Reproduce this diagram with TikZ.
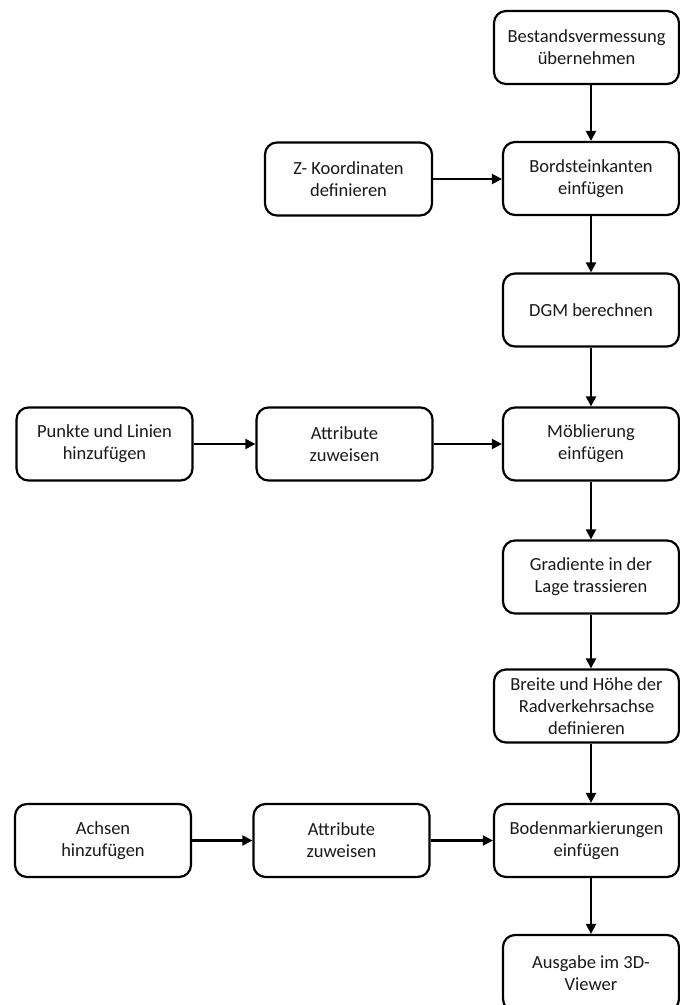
\documentclass[tikz,border=0pt]{standalone}
\usepackage{fontspec}
\setmainfont{Carlito}
\usetikzlibrary{arrows.meta}
\begin{document}
\begin{tikzpicture}[x=1pt,y=-1pt,
  stepbox/.style={draw, line width=2.2pt, rounded corners=12pt, fill=white,
    inner sep=0pt, minimum height=73pt, align=center,
    font=\fontsize{18.5}{22}\selectfont, text=black!90},
  wide/.style={stepbox, minimum width=185pt},
  std/.style={stepbox, minimum width=176pt},
  flow/.style={line width=2.2pt, -{Triangle[length=10pt,width=10pt]}}]
  \useasboundingbox (0,0) rectangle (680,1005);
  \clip (0,0) rectangle (680,1005);

  % main column
  \node[wide] (b1) at (586.5,47.5) {Bestandsvermessung\\übernehmen};
  \node[std] (b2) at (591,178.5) {Bordsteinkanten\\einfügen};
  \node[std] (dgm) at (591,310) {DGM berechnen};
  \node[std] (moeb) at (591,444) {Möblierung\\einfügen};
  \node[std] (grad) at (591,577) {Gradiente in der\\Lage trassieren};
  \node[wide] (breite) at (586.5,706) {Breite und Höhe der\\Radverkehrsachse\\definieren};
  \node[wide] (boden) at (586.5,840.5) {Bodenmarkierungen\\einfügen};
  \node[std, minimum height=76pt] (ausg) at (591,973) {Ausgabe im 3D-\\Viewer};

  % side branches
  \node[stepbox, minimum width=167pt] (zk) at (348.5,179) {Z- Koordinaten\\definieren};
  \node[std] (pl) at (104.5,444) {Punkte und Linien\\hinzufügen};
  \node[std] (at1) at (344.5,444) {Attribute\\zuweisen};
  \node[std] (ax) at (103,840.5) {Achsen\\hinzufügen};
  \node[std] (at2) at (341.5,840.5) {Attribute\\zuweisen};

  % vertical flow
  \draw[flow] (b1.south -| b2) -- (b2);
  \draw[flow] (b2) -- (dgm);
  \draw[flow] (dgm) -- (moeb);
  \draw[flow] (moeb) -- (grad);
  \draw[flow] (grad.south) -- (breite.north -| grad);
  \draw[flow] (breite.south -| grad) -- (boden.north -| grad);
  \draw[flow] (boden.south -| grad) -- (ausg);

  % horizontal flow
  \draw[flow] (zk.east) -- (b2.west |- zk.east);
  \draw[flow] (pl) -- (at1);
  \draw[flow] (at1) -- (moeb);
  \draw[flow] (ax) -- (at2);
  \draw[flow] (at2) -- (boden);
\end{tikzpicture}
\end{document}
